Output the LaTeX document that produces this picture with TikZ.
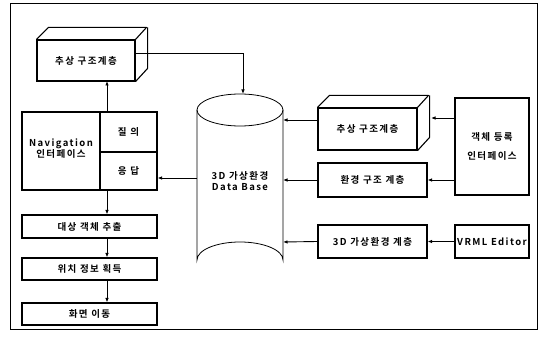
\documentclass[tikz,border=0pt]{standalone}
\usepackage{fontspec}
\setmainfont{Noto Sans CJK KR}[BoldFont={* Bold},LetterSpace=15]
\usetikzlibrary{arrows.meta}
\begin{document}
\begin{tikzpicture}[x=1pt,y=-1pt,
  every node/.style={font=\fontsize{9.5}{11}\selectfont\bfseries},
  boxr/.style={draw,line width=1.1pt,inner sep=0pt},
  arr/.style={-{Latex[length=4.5pt,width=3.5pt]},line width=0.9pt},
  lw/.style={line width=1.1pt}]
\useasboundingbox (0,0) rectangle (542,339);
\draw[line width=0.9pt] (10,3) rectangle (537,329);
% 3D box top-left
\node[boxr,minimum width=98pt,minimum height=41pt] (abs1) at (86,60.5) {추상 구조계층};
\draw[lw,line join=round] (abs1.north west) -- ++(12,-12) -- ++(98,0) -- (abs1.north east)
  (abs1.north east) ++(12,-12) -- ++(0,41) -- (abs1.south east);
% 3D box right
\node[boxr,minimum width=99pt,minimum height=42pt] (abs2) at (367.5,129) {추상 구조계층};
\draw[lw,line join=round] (abs2.north west) -- ++(12,-12) -- ++(99,0) -- (abs2.north east)
  (abs2.north east) ++(12,-12) -- ++(0,42) -- (abs2.south east);
% cylinder
\draw[line width=0.8pt] (240,110) ellipse [x radius=43, y radius=16];
\draw[line width=0.8pt] (197,110) -- (197,260) arc[start angle=180,end angle=360,x radius=43,y radius=18] -- (283,110);
\node[align=center,inner sep=0pt] (dbtext) at (240,181) {3D 가상환경\\Data Base};
\coordinate (dbtop) at (243,94);
\coordinate (dbL) at (197,178);
\coordinate (dbR1) at (283,120);
\coordinate (dbR2) at (283,180);
\coordinate (dbR3) at (283,242);
% navigation
\node[boxr,minimum width=135pt,minimum height=78pt] (nav) at (89.5,151) {};
\node[boxr,minimum width=57pt,minimum height=40pt] (q) at (128.5,132) {질 의};
\node[boxr,minimum width=57pt,minimum height=38pt] (r) at (128.5,171) {응 답};
\node[align=center,inner sep=0pt] (navt) at (61,149) {Navigation\\인터페이스};
% chain
\node[boxr,minimum width=135pt,minimum height=23pt] (c1) at (89.5,226.5) {대상 객체 추출};
\node[boxr,minimum width=135pt,minimum height=22pt] (c2) at (89.5,269) {위치 정보 획득};
\node[boxr,minimum width=135pt,minimum height=22pt] (c3) at (89.5,314) {화면 이동};
% right column
\node[boxr,minimum width=109pt,minimum height=34pt] (env) at (372.5,180) {환경 구조 계층};
\node[boxr,minimum width=109pt,minimum height=33pt] (vr) at (372.5,241.5) {3D 가상환경 계층};
\node[boxr,minimum width=74pt,minimum height=97pt,align=center] (reg) at (492,146.5) {객체 등록\\[8pt]인터페이스};
\node[boxr,minimum width=74pt,minimum height=33pt,inner sep=0pt] (ed) at (492,241.5) {VRML Editor};
% arrows
\draw[arr] (abs1.east |- 0,53) -| (dbtop);
\draw[arr] (107,112) -- (107,81);
\draw[arr] (dbL) -- (nav.east |- dbL);
\draw[arr] (107,190) -- (c1.north -| 107,0);
\draw[arr] (c1.south -| 107,0) -- (c2.north -| 107,0);
\draw[arr] (c2.south -| 107,0) -- (c3.north -| 107,0);
\draw[arr] (abs2.west |- dbR1) -- (dbR1);
\draw[arr] (reg.west |- 0,118) -- (431,118);
\draw[arr] (env.west) -- (dbR2);
\draw[arr] (reg.west |- env.east) -- (env.east);
\draw[arr] (vr.west) -- (dbR3);
\draw[arr] (ed.west) -- (vr.east);
\end{tikzpicture}
\end{document}
